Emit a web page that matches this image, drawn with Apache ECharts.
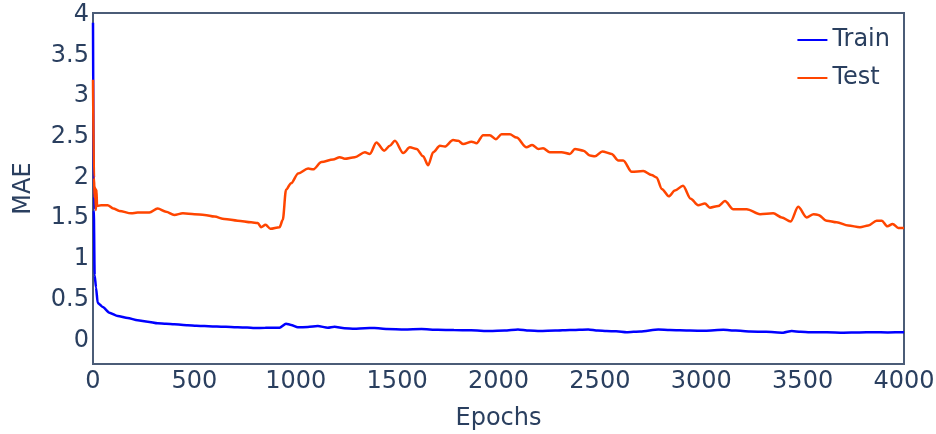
<!DOCTYPE html>
<html>
<head>
<meta charset="utf-8">
<script src="https://cdn.jsdelivr.net/npm/echarts@6/dist/echarts.min.js"></script>
<style>
html,body{margin:0;padding:0;background:#fff;}
#main{width:936px;height:434px;}
</style>
</head>
<body>
<div id="main"></div>
<script>
// values
var trainEpochs = [0, 4, 8, 15, 23, 48, 81, 122, 171, 220, 270, 319, 360, 401, 467, 510, 550, 590, 632, 680, 714, 760, 796, 850, 920, 952, 977, 1010, 1060, 1109, 1158, 1191, 1240, 1290, 1340, 1388, 1450, 1536, 1620, 1701, 1780, 1865, 1958, 2030, 2096, 2150, 2204, 2280, 2352, 2443, 2490, 2533, 2580, 2632, 2700, 2788, 2845, 2944, 3020, 3109, 3170, 3240, 3320, 3404, 3446, 3490, 3536, 3620, 3701, 3780, 3849, 3920, 4000];
var trainMae = [3.9, 1.6, 0.8, 0.65, 0.46, 0.41, 0.34, 0.30, 0.275, 0.246, 0.23, 0.21, 0.205, 0.197, 0.185, 0.18, 0.176, 0.172, 0.168, 0.165, 0.16, 0.157, 0.152, 0.155, 0.156, 0.205, 0.19, 0.16, 0.165, 0.176, 0.156, 0.168, 0.15, 0.144, 0.15, 0.152, 0.14, 0.135, 0.14, 0.13, 0.127, 0.123, 0.115, 0.12, 0.135, 0.122, 0.115, 0.12, 0.127, 0.135, 0.12, 0.115, 0.112, 0.10, 0.11, 0.135, 0.127, 0.12, 0.118, 0.13, 0.12, 0.11, 0.105, 0.095, 0.115, 0.105, 0.10, 0.10, 0.095, 0.098, 0.10, 0.098, 0.10];

var testEpochs = [0, 5, 8, 11, 14, 17, 20, 40, 72, 100, 130, 188, 220, 278, 319, 360, 401, 443, 500, 550, 599, 648, 714, 780, 813, 829, 851, 875, 920, 936, 952, 977, 1012, 1061, 1086, 1127, 1184, 1217, 1242, 1291, 1341, 1365, 1398, 1436, 1464, 1489, 1530, 1563, 1596, 1628, 1653, 1678, 1711, 1735, 1776, 1801, 1826, 1867, 1892, 1924, 1957, 1987, 2015, 2056, 2089, 2138, 2166, 2196, 2220, 2253, 2311, 2352, 2377, 2419, 2451, 2476, 2512, 2558, 2591, 2615, 2657, 2714, 2755, 2780, 2805, 2840, 2870, 2910, 2948, 2985, 3018, 3043, 3084, 3117, 3158, 3224, 3290, 3355, 3397, 3441, 3478, 3520, 3554, 3577, 3619, 3668, 3725, 3783, 3824, 3865, 3890, 3918, 3944, 3972, 4000];
var testMae = [3.2, 2.0, 1.75, 1.88, 1.6, 1.85, 1.65, 1.66, 1.66, 1.62, 1.59, 1.56, 1.57, 1.57, 1.62, 1.58, 1.54, 1.56, 1.55, 1.54, 1.52, 1.49, 1.47, 1.45, 1.44, 1.39, 1.42, 1.37, 1.39, 1.48, 1.85, 1.93, 2.05, 2.11, 2.10, 2.19, 2.22, 2.25, 2.23, 2.25, 2.31, 2.29, 2.43, 2.33, 2.39, 2.45, 2.30, 2.37, 2.35, 2.26, 2.15, 2.31, 2.39, 2.38, 2.46, 2.45, 2.41, 2.44, 2.42, 2.52, 2.52, 2.47, 2.53, 2.53, 2.49, 2.37, 2.40, 2.35, 2.36, 2.31, 2.31, 2.29, 2.35, 2.33, 2.27, 2.26, 2.32, 2.29, 2.21, 2.21, 2.07, 2.08, 2.03, 2.00, 1.86, 1.77, 1.84, 1.90, 1.74, 1.66, 1.68, 1.63, 1.65, 1.71, 1.61, 1.61, 1.55, 1.56, 1.51, 1.46, 1.64, 1.51, 1.55, 1.54, 1.47, 1.45, 1.41, 1.39, 1.41, 1.47, 1.47, 1.40, 1.43, 1.38, 1.38];

var yTicks = [0, 0.5, 1, 1.5, 2, 2.5, 3, 3.5, 4];
var xTicks = [0, 500, 1000, 1500, 2000, 2500, 3000, 3500, 4000];

function pairs(xs, ys) {
    var out = [];
    for (var i = 0; i < xs.length; i++) {
        out.push([xs[i], ys[i]]);
    }
    return out;
}

var textColor = '#2a3f5f';
var frameColor = '#4b5c77';
var font = 'DejaVu Sans';

var myChart = echarts.init(document.getElementById('main'));
myChart.setOption({
    animation: false,
    textStyle: {fontFamily: font, color: textColor},
    grid: {
        left: 93, right: 32, top: 13, bottom: 70,
        outerBoundsMode: 'none',
        show: true, borderColor: frameColor, borderWidth: 2
    },
    legend: {
        orient: 'vertical',
        right: 46,
        top: 28,
        padding: 0,
        icon: 'rect',
        itemWidth: 30,
        itemHeight: 2,
        itemGap: 14,
        textStyle: {fontSize: 24, color: textColor, fontFamily: font},
        data: ['Train', 'Test']
    },
    xAxis: {
        type: 'value',
        min: 0,
        max: 4000,
        interval: 500,
        name: 'Epochs',
        nameLocation: 'middle',
        nameGap: 43,
        nameTextStyle: {fontSize: 24, color: textColor, fontFamily: font},
        axisLine: {onZero: false, lineStyle: {color: frameColor, width: 2}},
        axisTick: {show: false},
        splitLine: {show: false},
        axisLabel: {
            fontSize: 24, color: textColor, margin: 6,
            customValues: xTicks,
            formatter: function (v) { return String(v); }
        }
    },
    yAxis: {
        type: 'value',
        min: -0.29,
        max: 4.02,
        name: 'MAE',
        nameLocation: 'middle',
        nameGap: 57,
        nameTextStyle: {fontSize: 24, color: textColor, fontFamily: font},
        axisLine: {show: true, onZero: false, lineStyle: {color: frameColor, width: 2}},
        axisTick: {show: false},
        splitLine: {show: false},
        axisLabel: {
            fontSize: 24, color: textColor, margin: 4,
            customValues: yTicks,
            formatter: function (v) { return String(v); }
        }
    },
    series: [
        {
            name: 'Train',
            type: 'line',
            data: pairs(trainEpochs, trainMae),
            symbol: 'none',
            smooth: 0.2,
            smoothMonotone: 'x',
            lineStyle: {color: '#0000ff', width: 2.5},
            itemStyle: {color: '#0000ff'}
        },
        {
            name: 'Test',
            type: 'line',
            data: pairs(testEpochs, testMae),
            symbol: 'none',
            smooth: 0.3,
            smoothMonotone: 'x',
            lineStyle: {color: '#ff4500', width: 2.5},
            itemStyle: {color: '#ff4500'}
        }
    ]
});
</script>
</body>
</html>
